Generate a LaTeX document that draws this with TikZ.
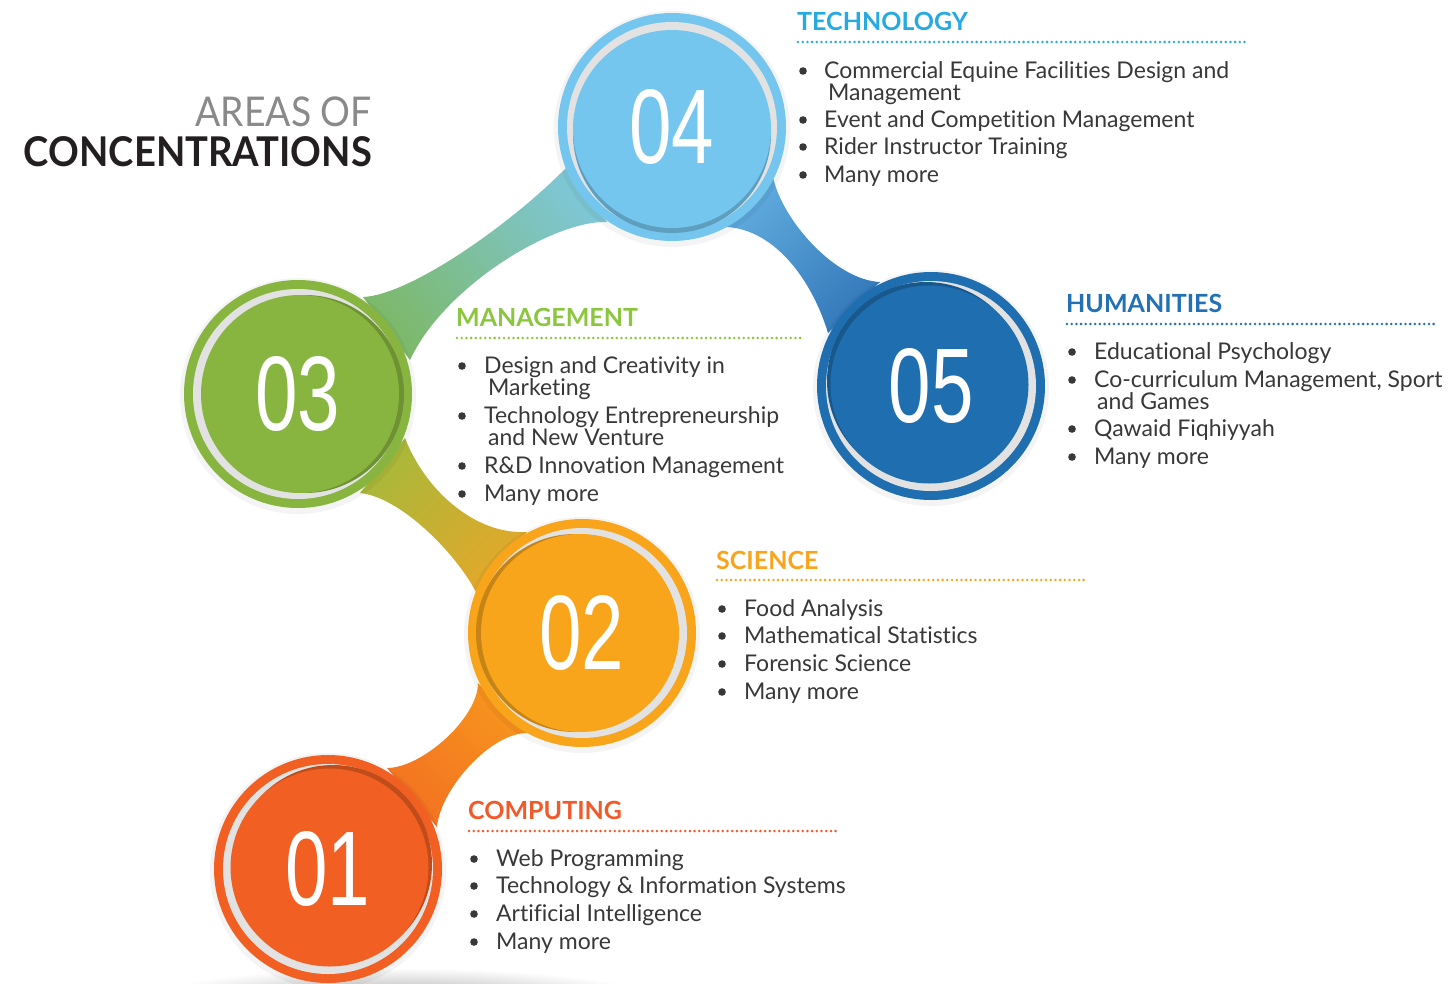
\documentclass[tikz,border=0pt]{standalone}
\usepackage{fontspec}
\usepackage{graphicx}
\setmainfont{Lato}[Ligatures={NoCommon}]
\newfontfamily\numfont{Liberation Sans}
\usetikzlibrary{calc}
\definecolor{cOne}{HTML}{F15F22}
\definecolor{cTwo}{HTML}{F9A51B}
\definecolor{cThree}{HTML}{88B540}
\definecolor{cFour}{HTML}{75C6EF}
\definecolor{cFive}{HTML}{1F6EB0}
\definecolor{rOneA}{HTML}{F37221}
\definecolor{rOneB}{HTML}{F7941E}
\definecolor{rTwoA}{HTML}{E2A82A}
\definecolor{rTwoB}{HTML}{A9B83A}
\definecolor{rThreeA}{HTML}{7DB96B}
\definecolor{rThreeB}{HTML}{7EC6D4}
\definecolor{rFourA}{HTML}{5FAADD}
\definecolor{rFourB}{HTML}{3479BA}
\definecolor{hTech}{HTML}{27AAE1}
\definecolor{hMan}{HTML}{8CC63F}
\definecolor{hHum}{HTML}{2270B5}
\definecolor{hSci}{HTML}{F8A51D}
\definecolor{hComp}{HTML}{F15A29}
\definecolor{txt}{HTML}{383838}
\definecolor{ringgray}{HTML}{E2E2E2}
\definecolor{titlegray}{HTML}{8A8A8A}
\definecolor{titledark}{HTML}{231F20}

% name, x, y, colour, dark offset, main offset, number
\newcommand\bubble[7]{%
  \coordinate (#1) at (#2,#3);
  \fill[black,opacity=.045] ($(#1)+(0,2)$) circle[radius=118pt];
  \fill[#4] (#1) circle[radius=114pt];
  \fill[ringgray] (#1) circle[radius=105pt];
  \fill[#4!80!black] ($(#1)+#5$) circle[radius=99pt];
  \fill[#4] ($(#1)+#6$) circle[radius=99pt];
  \node[numtext] (#1n) at (#1) {\scalebox{0.72}[1]{#7}};
}
% name, bullet x, text x, baseline y, text
\newcommand\blt[5]{%
  \fill[txt] (#2,#4-7) circle[radius=3.8pt];
  \node[itemtext] (#1) at (#3,#4) {#5};
}

\begin{document}
\begin{tikzpicture}[x=1pt,y=-1pt,
  numtext/.style={anchor=center,inner sep=0pt,text=white,font=\numfont\fontsize{106}{106}\selectfont},
  itemtext/.style={anchor=base west,inner sep=0pt,text=txt,font=\fontsize{23}{27}\selectfont},
  headtext/.style={anchor=base west,inner sep=0pt,font=\fontsize{25}{29}\selectfont\bfseries},
  dotline/.style={line width=2.8pt,line cap=round,dash pattern=on 0pt off 4.7pt}]
\useasboundingbox (0,0) rectangle (1455,983);
\fill[white] (0,0) rectangle (1455,983);

% ground shadow
\shade[inner color=black!32,outer color=white] (400,998) ellipse[x radius=250pt,y radius=30pt];

% ribbons
\shade[top color=rOneB,bottom color=rOneA,shading angle=-45]
  (387,768) .. controls (422,768) and (478,718) .. (478,683)
  -- (527,733) .. controls (490,733) and (440,790) .. (437,827) -- cycle;
\shade[top color=rTwoB,bottom color=rTwoA,shading angle=45]
  (360,493) .. controls (400,497) and (455,552) .. (476,592)
  -- (527,532) .. controls (475,535) and (425,490) .. (405,438) -- cycle;
\shade[top color=rThreeB,bottom color=rThreeA,shading angle=-50]
  (363,297) .. controls (410,295) and (510,225) .. (567,167)
  -- (607,222) .. controls (555,220) and (445,285) .. (410,360) -- cycle;
\shade[top color=rFourA,bottom color=rFourB,shading angle=45]
  (773,177) .. controls (782,220) and (835,280) .. (880,282)
  -- (828,333) .. controls (812,280) and (775,230) .. (727,227) -- cycle;

% circles
\bubble{c1}{328}{869}{cOne}{(5,-5)}{(1.5,-1.5)}{01}
\bubble{c2}{582}{633}{cTwo}{(-7,0)}{(-2,0)}{02}
\bubble{c3}{298}{394}{cThree}{(7,0)}{(2,0)}{03}
\bubble{c4}{672}{127}{cFour}{(0,7)}{(0,2)}{04}
\bubble{c5}{931}{386}{cFive}{(-5,-5)}{(-1.5,-1.5)}{05}

% title
\node[anchor=base east,inner sep=0pt,text=titlegray,font=\fontsize{41}{44}\selectfont] (ttlA) at (372,126) {\scalebox{0.91}[1]{AREAS OF}};
\node[anchor=base east,inner sep=0pt,text=titledark,font=\fontsize{41}{44}\selectfont\bfseries] (ttlB) at (372,166) {\scalebox{0.93}[1]{CONCENTRATIONS}};

% technology
\node[headtext,text=hTech] (hT) at (797,30) {TECHNOLOGY};
\draw[dotline,hTech] (798,42) -- (1247,42);
\blt{t1}{803}{824}{78}{Commercial Equine Facilities Design and}
\node[itemtext] (t1b) at (828,100) {Management};
\blt{t2}{803}{824}{127}{Event and Competition Management}
\blt{t3}{803}{824}{154}{Rider Instructor Training}
\blt{t4}{803}{824}{182}{Many more}

% management
\node[headtext,text=hMan] (hM) at (456,326) {MANAGEMENT};
\draw[dotline,hMan] (457,338) -- (803,338);
\blt{m1}{462}{484}{373}{Design and Creativity in}
\node[itemtext] (m1b) at (488,395) {Marketing};
\blt{m2}{462}{484}{423}{Technology Entrepreneurship}
\node[itemtext] (m2b) at (488,445) {and New Venture};
\blt{m3}{462}{484}{473}{R\&D Innovation Management}
\blt{m4}{462}{484}{501}{Many more}

% humanities
\node[headtext,text=hHum] (hH) at (1066,312) {HUMANITIES};
\draw[dotline,hHum] (1067,324) -- (1438,324);
\blt{u1}{1072}{1094}{359}{Educational Psychology}
\blt{u2}{1072}{1094}{387}{Co-curriculum Management, Sport}
\node[itemtext] (u2b) at (1097,409) {and Games};
\blt{u3}{1072}{1094}{436}{Qawaid Fiqhiyyah}
\blt{u4}{1072}{1094}{464}{Many more}

% science
\node[headtext,text=hSci] (hS) at (716,569) {SCIENCE};
\draw[dotline,hSci] (717,580) -- (1088,580);
\blt{s1}{722}{744}{616}{Food Analysis}
\blt{s2}{722}{744}{643}{Mathematical Statistics}
\blt{s3}{722}{744}{671}{Forensic Science}
\blt{s4}{722}{744}{699}{Many more}

% computing
\node[headtext,text=hComp] (hC) at (468,819) {COMPUTING};
\draw[dotline,hComp] (469,831) -- (840,831);
\blt{p1}{474}{496}{866}{Web Programming}
\blt{p2}{474}{496}{893}{Technology \& Information Systems}
\blt{p3}{474}{496}{921}{Artificial Intelligence}
\blt{p4}{474}{496}{949}{Many more}
\end{tikzpicture}
\end{document}
